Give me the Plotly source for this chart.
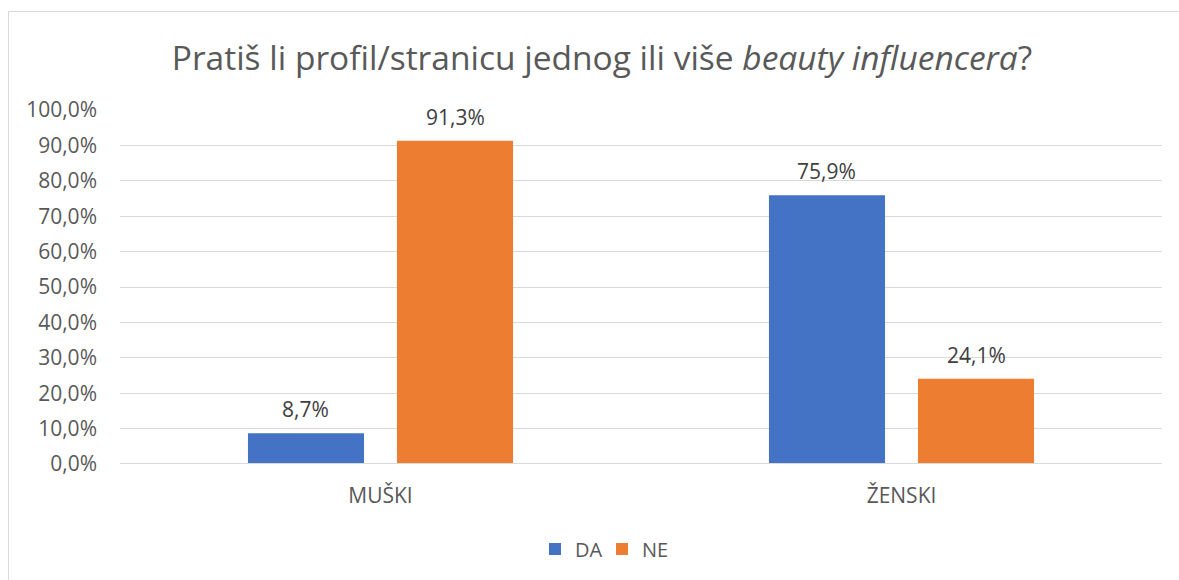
import plotly.graph_objects as go

categories = ["MUŠKI", "ŽENSKI"]
series_names = ["DA", "NE"]
da_values = [0.087, 0.759]
ne_values = [0.913, 0.241]
tick_values = [i / 10 for i in range(11)]

W, H = 1179, 580
L, R, T, B = 120, 17, 110, 116
plot_w = W - L - R
plot_h = H - T - B
BARGAP, BARGROUPGAP = 0.428, 0.221
CHART_CENTER = 602  # horizontal centre of the chart frame, px

font_family = "Open Sans"
gray = "#595959"
label_size = 21

series = [(series_names[0], da_values, "#4472C4"),
          (series_names[1], ne_values, "#ED7D31")]

fig = go.Figure()
for name, vals, color in series:
    fig.add_trace(go.Bar(
        x=categories, y=vals, name=name,
        marker=dict(color=color, line=dict(width=0)),
        hovertemplate="%{x}: %{y:.1%}<extra>" + name + "</extra>",
    ))

# value labels above each bar, offset to the bar's slot within its group
cat_w = plot_w / len(categories)
slot_w = cat_w * (1 - BARGAP) / len(series)
annotations = []
for i, (name, vals, color) in enumerate(series):
    xshift = (i - (len(series) - 1) / 2) * slot_w
    for cat, v in zip(categories, vals):
        annotations.append(dict(
            x=cat, y=v, xref="x", yref="y", text=f"{v * 100:.1f}%".replace(".", ","),
            showarrow=False, xshift=xshift, yshift=24, yanchor="middle",
            font=dict(size=label_size, color="#404040", family=font_family),
        ))

def px_to_paper_x(px):
    return (px - L) / plot_w

def px_to_paper_y(py):
    return (H - B - py) / plot_h

fig.update_layout(
    width=W, height=H, autosize=False,
    margin=dict(l=L, r=R, t=T, b=B),
    paper_bgcolor="white", plot_bgcolor="white",
    separators=",.",
    barmode="group", bargap=BARGAP, bargroupgap=BARGROUPGAP,
    font=dict(family=font_family, color=gray, size=label_size),
    title=dict(
        text="Pratiš li profil/stranicu jednog ili više <i>beauty influencera</i>?",
        xref="paper", x=px_to_paper_x(CHART_CENTER), xanchor="center",
        y=1 - 58 / H, yanchor="middle",
        font=dict(size=33.5, color=gray, family=font_family),
    ),
    xaxis=dict(
        showgrid=False, showline=False, ticks="",
        tickfont=dict(size=label_size, color=gray, family=font_family),
        ticklabelstandoff=17,
    ),
    yaxis=dict(
        range=[0, 1], tickvals=tick_values, tickformat=".1%",
        showgrid=True, gridcolor="#D9D9D9", gridwidth=1,
        zeroline=False, showline=False, ticks="", ticklen=0,
        tickfont=dict(size=label_size, color=gray, family=font_family),
        ticklabelstandoff=22,
    ),
    legend=dict(
        orientation="h", x=px_to_paper_x(CHART_CENTER), xanchor="center",
        y=px_to_paper_y(549), yanchor="middle",
        font=dict(size=20, color=gray, family=font_family),
        itemwidth=30, traceorder="normal", entrywidth=22,
    ),
    annotations=annotations,
    shapes=[
        dict(type="line", xref="paper", yref="y", x0=0, x1=1, y0=0, y1=0,
             line=dict(color="#D9D9D9", width=2), layer="above"),
        dict(type="rect", xref="paper", yref="paper",
             x0=px_to_paper_x(8.5), x1=px_to_paper_x(W + 5),
             y0=px_to_paper_y(H + 5), y1=px_to_paper_y(11.5),
             line=dict(color="#D9D9D9", width=1), fillcolor="rgba(0,0,0,0)"),
    ],
)

fig.write_html("out.html")
